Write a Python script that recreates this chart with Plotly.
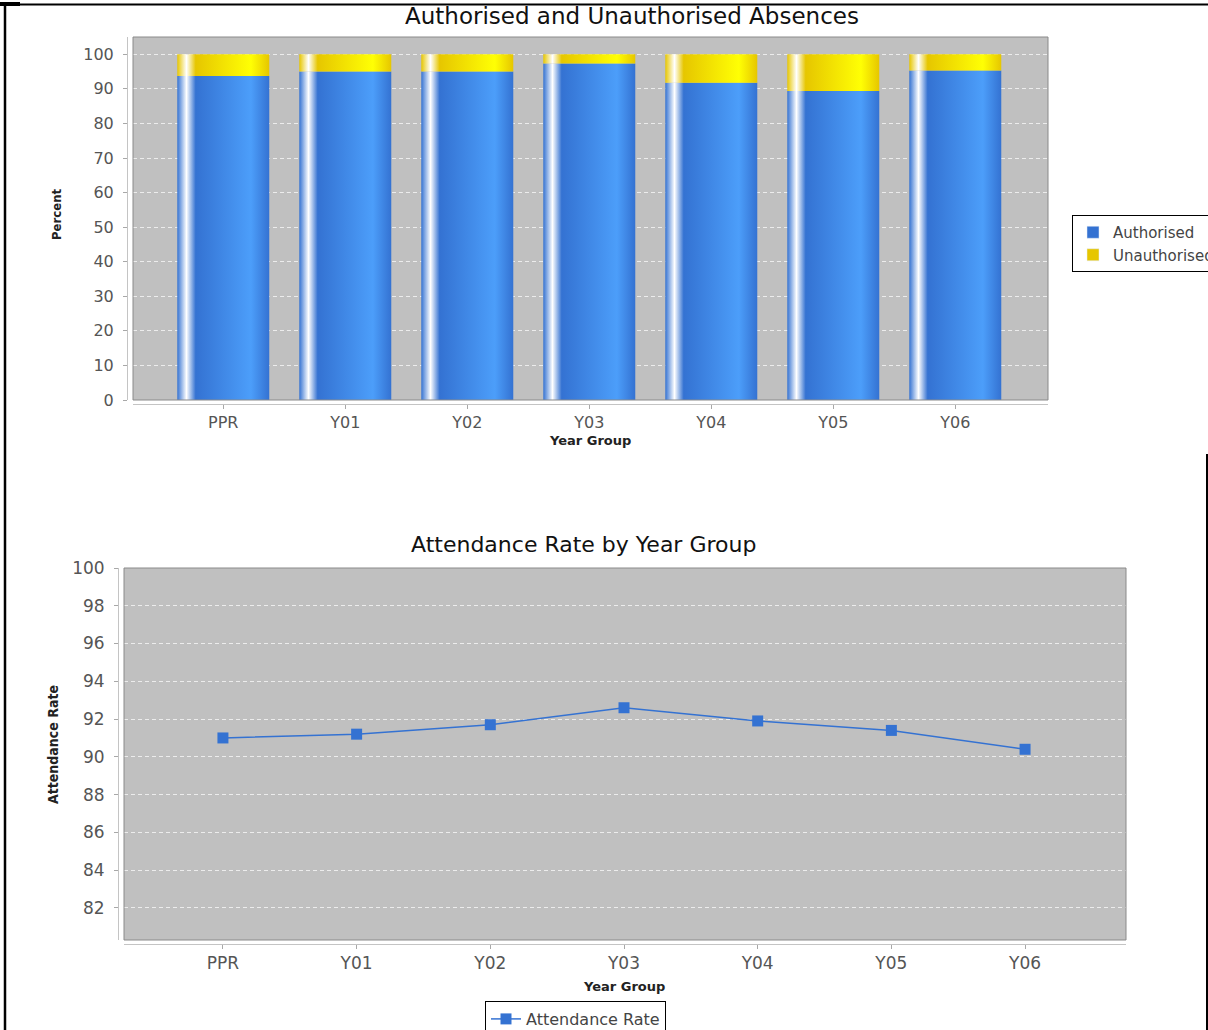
import plotly.graph_objects as go

W, H = 1208, 1030

# ---- data -------------------------------------------------------------
year_groups = ["PPR", "Y01", "Y02", "Y03", "Y04", "Y05", "Y06"]
authorised = [93.7, 95.0, 95.0, 97.3, 91.8, 89.4, 95.3]
unauthorised = [6.3, 5.0, 5.0, 2.7, 8.2, 10.6, 4.7]
attendance_rate = [91.0, 91.2, 91.7, 92.6, 91.9, 91.4, 90.4]

percent_ticks = list(range(0, 101, 10))
rate_ticks = list(range(82, 101, 2))

# ---- styling ----------------------------------------------------------
FONT = "DejaVu Sans"
NARROW = "DejaVu Sans Condensed, Liberation Sans Narrow, Arial Narrow, DejaVu Sans"
BLUE, BLUE_HI = "rgb(52,114,210)", "rgb(76,158,250)"
GOLD, GOLD_HI = "rgb(230,198,0)", "rgb(255,255,4)"
TICK_COLOR = "#555555"
AXIS_LINE = "#c4c4c4"
BAR_W = 0.754


def px_x(p):
    return p / W


def px_y(p):
    return 1 - p / H


def bar_gradient(base, bright):
    # highlight stripe near the left edge, then a soft sweep to the right
    return [[0, base], [0.1, "white"], [0.2, base], [0.8, bright], [1.0, base]]


fig = go.Figure()


def add_stack(values, bases, base_col, bright_col):
    for i, (v, b) in enumerate(zip(values, bases)):
        x0, x1 = i - BAR_W / 2, i + BAR_W / 2
        fig.add_trace(go.Scatter(
            x=[x0, x1, x1, x0, x0],
            y=[b, b, b + v, b + v, b],
            mode="none", fill="toself",
            fillgradient=dict(type="horizontal",
                              colorscale=bar_gradient(base_col, bright_col)),
            showlegend=False, hoverinfo="skip",
            xaxis="x", yaxis="y",
        ))


zeros = [0] * len(authorised)
add_stack(authorised, zeros, BLUE, BLUE_HI)
add_stack(unauthorised, authorised, GOLD, GOLD_HI)

# legend keys for the stacked bars
fig.add_trace(go.Bar(x=[None], y=[None], name="Authorised", marker_color=BLUE,
                     xaxis="x", yaxis="y", legend="legend"))
fig.add_trace(go.Bar(x=[None], y=[None], name="Unauthorised", marker_color=GOLD,
                     xaxis="x", yaxis="y", legend="legend"))

# attendance line
fig.add_trace(go.Scatter(
    x=year_groups, y=attendance_rate, name="Attendance Rate",
    mode="lines+markers",
    line=dict(color=BLUE, width=1.5),
    marker=dict(symbol="square", size=11, color=BLUE),
    xaxis="x2", yaxis="y2", legend="legend2",
))

common_axis = dict(
    showline=True, linecolor=AXIS_LINE, linewidth=1,
    ticks="outside", ticklen=4, tickcolor="#a8a8a8",
    zeroline=False, fixedrange=True,
)
grid = dict(showgrid=True, gridcolor="#ececec", gridwidth=1, griddash="4px,3px")

fig.update_layout(
    width=W, height=H,
    margin=dict(l=0, r=0, t=0, b=0, autoexpand=False),
    paper_bgcolor="white", plot_bgcolor="#c0c0c0",
    font=dict(family=FONT, color="#333333"),
    showlegend=True,
    xaxis=dict(
        domain=[px_x(133), px_x(1048)], anchor="free", position=px_y(404),
        range=[-0.74, 6.76], tickvals=list(range(len(year_groups))),
        ticktext=year_groups, showgrid=False,
        tickfont=dict(size=16, color=TICK_COLOR), ticklabelstandoff=0,
        **common_axis,
    ),
    yaxis=dict(
        domain=[px_y(400), px_y(37)], anchor="free", position=px_x(127),
        range=[0, 105], tickvals=percent_ticks,
        tickfont=dict(size=16, color=TICK_COLOR), ticklabelstandoff=6,
        **grid, **common_axis,
    ),
    xaxis2=dict(
        domain=[px_x(124), px_x(1126)], anchor="free", position=px_y(944),
        type="category", range=[-0.74, 6.755], showgrid=False,
        tickfont=dict(size=17, color=TICK_COLOR), ticklabelstandoff=0,
        **common_axis,
    ),
    yaxis2=dict(
        domain=[px_y(940), px_y(568)], anchor="free", position=px_x(118),
        range=[80.3, 100], tickvals=rate_ticks,
        tickfont=dict(size=17, color=TICK_COLOR), ticklabelstandoff=6,
        **grid, **common_axis,
    ),
    legend=dict(
        x=px_x(1072), y=px_y(215), xanchor="left", yanchor="top",
        bgcolor="white", bordercolor="black", borderwidth=1,
        font=dict(size=15, color="#444444"), itemwidth=30,
        tracegroupgap=0,
    ),
    legend2=dict(
        x=px_x(485), y=px_y(1001), xanchor="left", yanchor="top",
        orientation="h", bgcolor="white", bordercolor="black", borderwidth=1,
        font=dict(size=16, color="#444444"), itemwidth=30,
    ),
)

# chart titles and axis titles
annotations = [
    dict(text="Authorised and Unauthorised Absences", x=px_x(632), y=px_y(16),
         font=dict(size=23, color="#111111")),
    dict(text="Attendance Rate by Year Group", x=px_x(583), y=px_y(544),
         font=dict(size=22, color="#111111")),
    dict(text="<b>Percent</b>", x=px_x(56), y=px_y(215), textangle=-90,
         font=dict(size=13, family=NARROW, color="#222222")),
    dict(text="<b>Year Group</b>", x=px_x(590), y=px_y(440),
         font=dict(size=13, color="#222222")),
    dict(text="<b>Attendance Rate</b>", x=px_x(53), y=px_y(745), textangle=-90,
         font=dict(size=14, family=NARROW, color="#222222")),
    dict(text="<b>Year Group</b>", x=px_x(624), y=px_y(986),
         font=dict(size=13, color="#222222")),
]
for a in annotations:
    fig.add_annotation(xref="paper", yref="paper", showarrow=False,
                       xanchor="center", yanchor="middle", **a)

# plot-area outlines
for xr, yr in (("x domain", "y domain"), ("x2 domain", "y2 domain")):
    fig.add_shape(type="rect", xref=xr, yref=yr, x0=0, x1=1, y0=0, y1=1,
                  line=dict(color="#8a8a8a", width=1), layer="above")

# page frame
frame = [
    (0, 4, 20, 4, 4),
    (5, 4.5, W, 4.5, 2),
    (5, 4, 5, H, 2.5),
    (W - 1, 454, W - 1, H, 2),
]
for x0, y0, x1, y1, w in frame:
    fig.add_shape(type="line", xref="paper", yref="paper",
                  x0=px_x(x0), y0=px_y(y0), x1=px_x(x1), y1=px_y(y1),
                  line=dict(color="black", width=w))

fig.write_html("out.html")
